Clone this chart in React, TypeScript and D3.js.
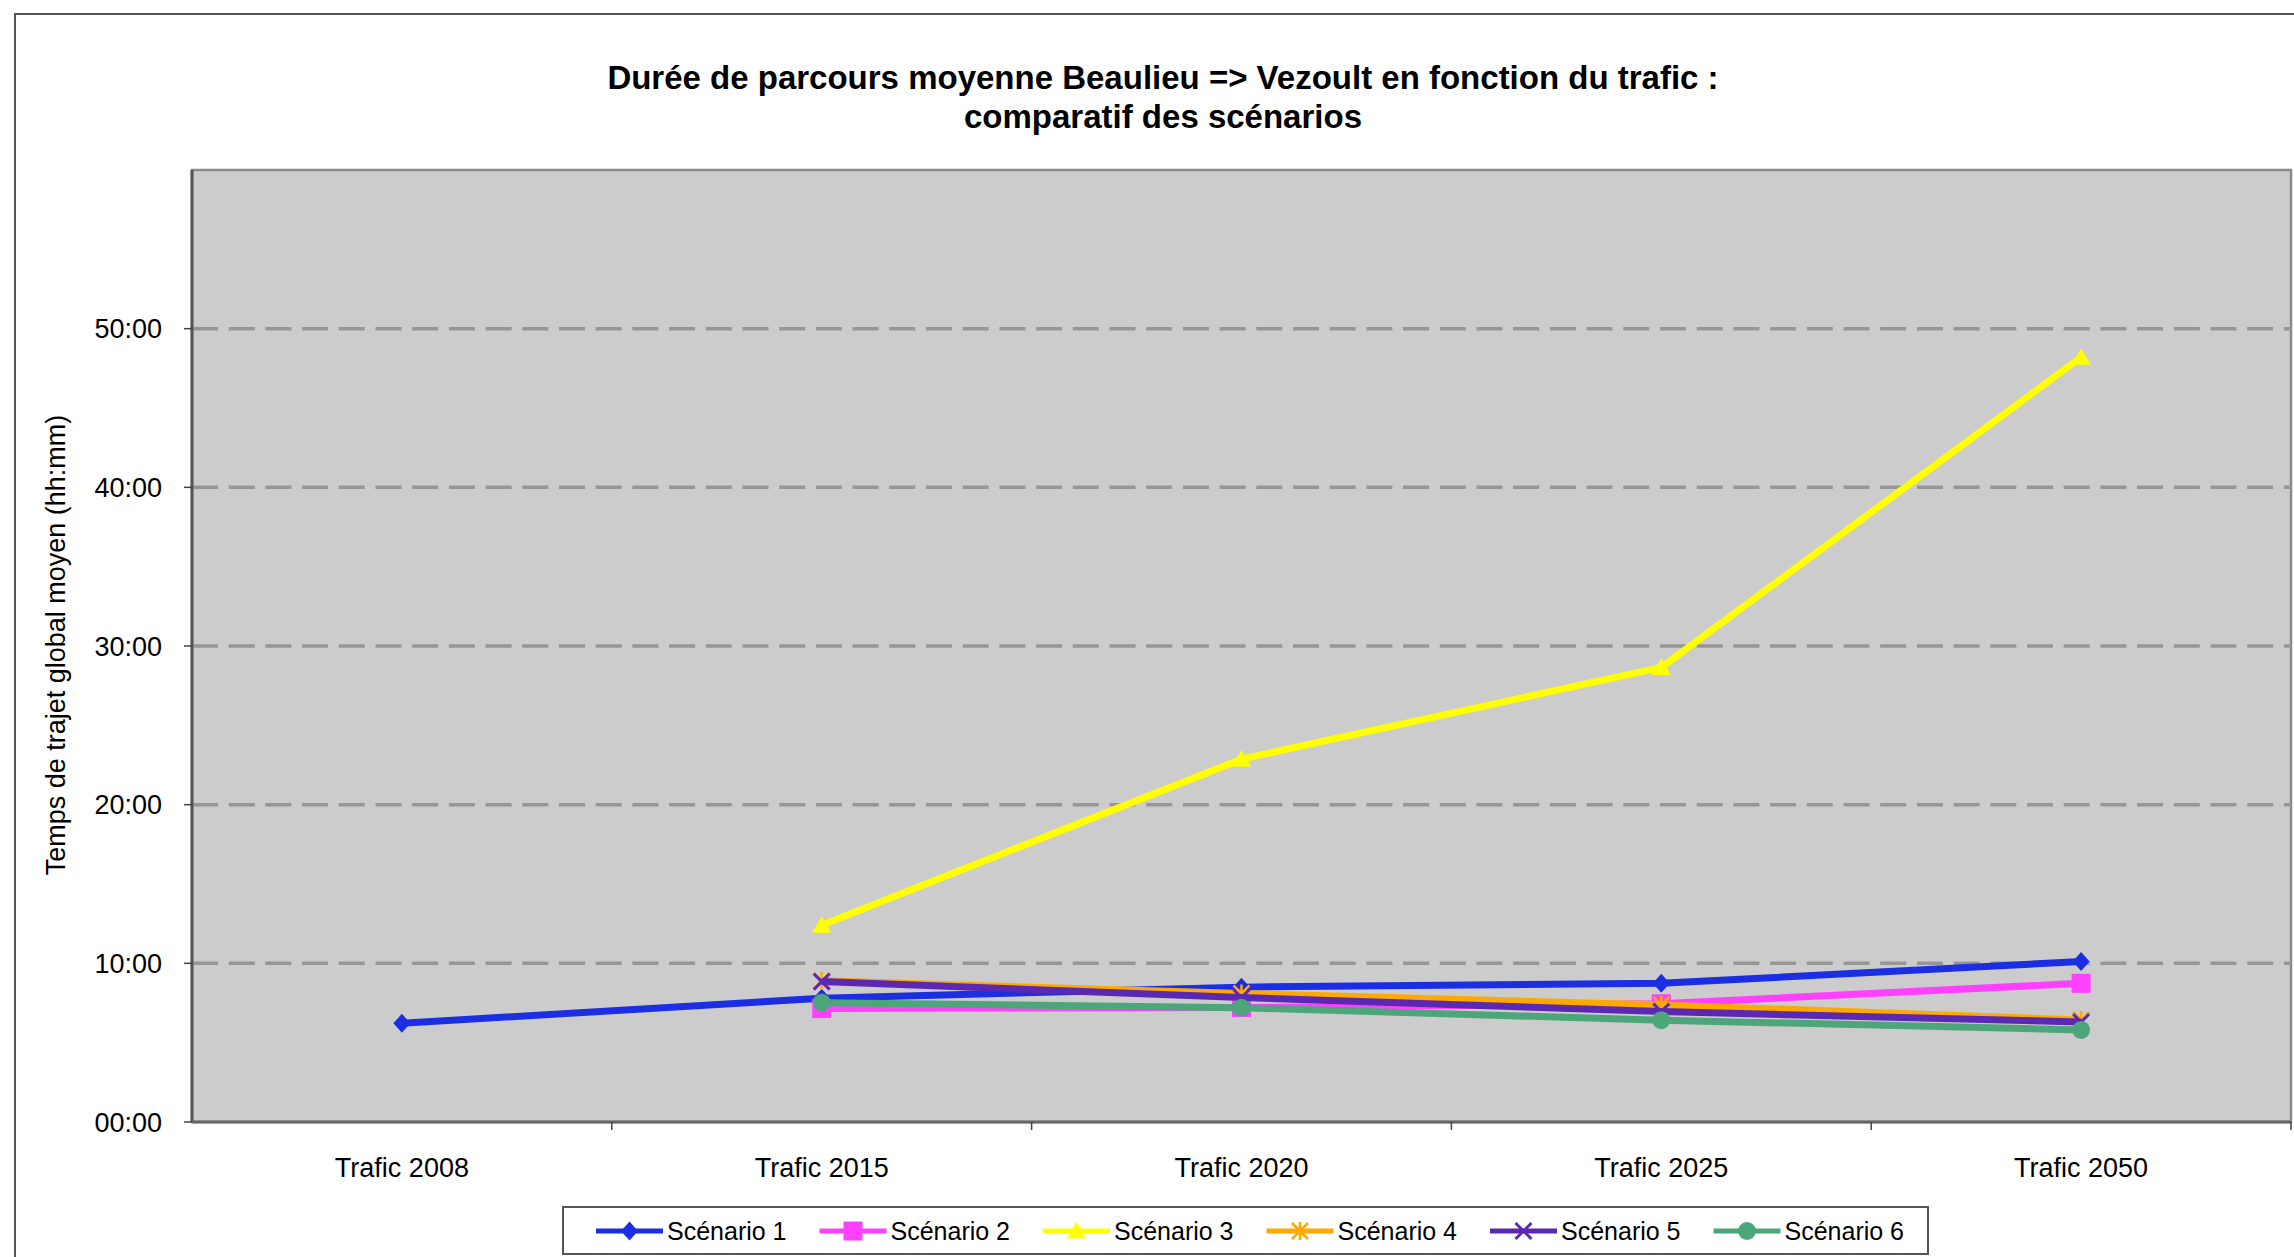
import React from "react";
import * as d3 from "d3";

const categories = ["Trafic 2008", "Trafic 2015", "Trafic 2020", "Trafic 2025", "Trafic 2050"];
const seriesNames = ["Scénario 1", "Scénario 2", "Scénario 3", "Scénario 4", "Scénario 5", "Scénario 6"];
const scenario1 = [6.22, 7.8, 8.5, 8.74, 10.12];
const scenario2 = [null, 7.15, 7.22, 7.45, 8.74];
const scenario3 = [null, 12.4, 22.87, 28.65, 48.2];
const scenario4 = [null, 8.9, 8.1, 7.38, 6.43];
const scenario5 = [null, 8.85, 7.85, 6.96, 6.3];
const scenario6 = [null, 7.52, 7.2, 6.42, 5.8];
const yTicks = [0, 10, 20, 30, 40, 50];
const title1 = "Durée de parcours moyenne Beaulieu => Vezoult en fonction du trafic :";
const title2 = "comparatif des scénarios";
const yTitle = "Temps de trajet global moyen (hh:mm)";

const colors = ["#1C2EE2", "#FF40FF", "#FFFF00", "#FFA800", "#5B28B2", "#4DA679"];
const markers = ["diamond", "square", "triangle", "asterisk", "x", "circle"];

const W = 2294, H = 1257;
const PL = 192, PR = 2291, PT = 170, PB = 1122;
const FONT = "'Liberation Sans', Arial, sans-serif";

function Marker({ kind, color, x, y }: { kind: string; color: string; x: number; y: number }) {
  const t = `translate(${x},${y})`;
  if (kind === "diamond") {
    return <path transform={t} d="M0,-9.5L8.5,0L0,9.5L-8.5,0Z" fill={color} />;
  }
  if (kind === "square") {
    return <path transform={t} d={d3.symbol(d3.symbolSquare, 361)() || ""} fill={color} />;
  }
  if (kind === "triangle") {
    return <path transform={`translate(${x},${y + 2})`} d={d3.symbol(d3.symbolTriangle, 160)() || ""} fill={color} />;
  }
  if (kind === "circle") {
    return <path transform={t} d={d3.symbol(d3.symbolCircle, 254)() || ""} fill={color} />;
  }
  if (kind === "x") {
    return <path transform={t} d="M-8,-8L8,8M-8,8L8,-8" stroke={color} strokeWidth={3} fill="none" />;
  }
  // asterisk
  return <path transform={t} d="M-8,-8L8,8M-8,8L8,-8M0,-9L0,9" stroke={color} strokeWidth={2.5} fill="none" />;
}

export default function App() {
  const x = d3.scaleBand<string>().domain(categories).range([PL, PR]).padding(0);
  const y = d3.scaleLinear().domain([0, 60]).range([PB, PT]);
  const data = [scenario1, scenario2, scenario3, scenario4, scenario5, scenario6];
  const cx = (c: string) => (x(c) as number) + x.bandwidth() / 2;
  const line = d3
    .line<[string, number | null]>()
    .defined((d) => d[1] != null)
    .x((d) => cx(d[0]))
    .y((d) => y(d[1] as number));
  const fmt = (v: number) => d3.format("02d")(v) + ":00";
  const boundaries = categories.map((c) => (x(c) as number) + x.bandwidth());

  const legX0 = 596, legStep = 223.5, legLen = 67, legY = 1231;

  return (
    <svg width={W} height={H} style={{ position: "absolute", left: 0, top: 0, background: "#fff" }} fontFamily={FONT}>
      <rect x={0} y={0} width={W} height={H} fill="#fff" />
      <rect x={15} y={14} width={2400} height={1400} fill="none" stroke="#555" strokeWidth={2} />
      <text x={1163} y={89} textAnchor="middle" fontSize={33} fontWeight="bold" fill="#000">{title1}</text>
      <text x={1163} y={128} textAnchor="middle" fontSize={33} fontWeight="bold" fill="#000">{title2}</text>

      <rect x={PL} y={PT} width={PR - PL} height={PB - PT} fill="#CCCCCC" stroke="#8a8a8a" strokeWidth={2.5} />
      {yTicks.filter((v) => v > 0).map((v) => (
        <line key={v} x1={PL} x2={PR} y1={y(v)} y2={y(v)} stroke="#969696" strokeWidth={3.5} strokeDasharray="26 10.7" />
      ))}
      <line x1={PL} x2={PL} y1={PT} y2={PB} stroke="#555" strokeWidth={3} />
      <line x1={PL} x2={PR} y1={PB} y2={PB} stroke="#666" strokeWidth={3} />
      {yTicks.map((v) => (
        <g key={v}>
          <line x1={184} x2={PL} y1={y(v)} y2={y(v)} stroke="#444" strokeWidth={1.5} />
          <text x={162} y={y(v) + 9.5} textAnchor="end" fontSize={27} fill="#000">{fmt(v)}</text>
        </g>
      ))}
      {boundaries.map((b, i) => (
        <line key={i} x1={b} x2={b} y1={PB} y2={PB + 8} stroke="#444" strokeWidth={1.5} />
      ))}
      {categories.map((c) => (
        <text key={c} x={cx(c)} y={1177} textAnchor="middle" fontSize={27} fill="#000">{c}</text>
      ))}
      <text transform={`translate(65,645) rotate(-90)`} textAnchor="middle" fontSize={27} fill="#000">{yTitle}</text>

      {data.map((s, i) => (
        <g key={i}>
          <path
            d={line(categories.map((c, j) => [c, s[j]] as [string, number | null])) || ""}
            fill="none"
            stroke={colors[i]}
            strokeWidth={7}
            strokeLinejoin="round"
          />
          {s.map((v, j) => (v == null ? null : <Marker key={j} kind={markers[i]} color={colors[i]} x={cx(categories[j])} y={y(v)} />))}
        </g>
      ))}

      <rect x={563} y={1207} width={1365} height={47} fill="#fff" stroke="#555" strokeWidth={2} />
      {seriesNames.map((n, i) => {
        const lx = legX0 + i * legStep;
        return (
          <g key={n}>
            <line x1={lx} x2={lx + legLen} y1={legY} y2={legY} stroke={colors[i]} strokeWidth={5} />
            <Marker kind={markers[i]} color={colors[i]} x={lx + legLen / 2} y={legY} />
            <text x={lx + 71} y={legY + 9} fontSize={25} fill="#000">{n}</text>
          </g>
        );
      })}
    </svg>
  );
}
